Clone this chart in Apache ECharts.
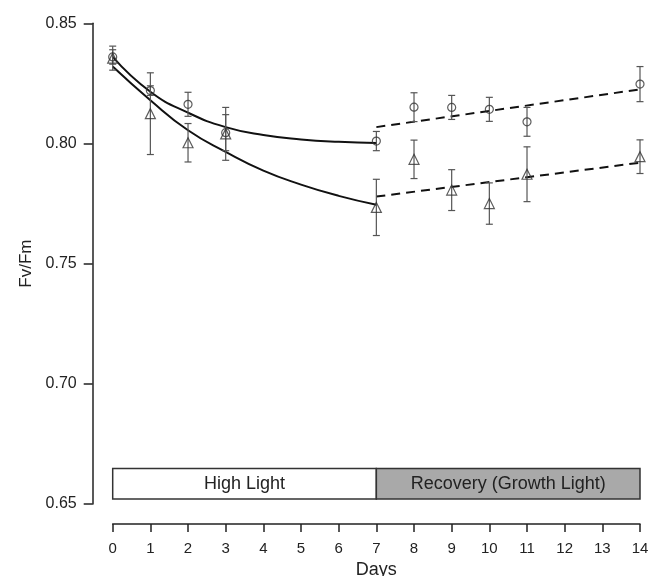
<!DOCTYPE html>
<html>
<head>
<meta charset="utf-8">
<script src="https://cdn.jsdelivr.net/npm/echarts@6/dist/echarts.min.js"></script>
<style>html,body{margin:0;padding:0;background:#fff}#c{width:649px;height:576px}</style>
</head>
<body>
<div id="c"></div>
<script>
// Measured days
const days = [0, 1, 2, 3, 7, 8, 9, 10, 11, 14];
// Circles series (mean, error)
const circleMean = [0.836, 0.822, 0.8163, 0.8045, 0.801, 0.8151, 0.815, 0.8142, 0.809, 0.8247];
const circleErr  = [0.003, 0.002, 0.005, 0.0075, 0.004, 0.006, 0.005, 0.005, 0.006, 0.0073];
// Triangles series (mean, error)
const triMean = [0.8355, 0.8124, 0.8003, 0.804, 0.7734, 0.7934, 0.7806, 0.775, 0.7872, 0.7945];
const triErr  = [0.005, 0.017, 0.008, 0.011, 0.0117, 0.008, 0.0085, 0.0086, 0.0114, 0.007];
// Fitted decay curves during high light
const fitDays = [0, 1, 2, 3, 4, 5, 6, 7];
const circleFit = [0.836, 0.8215, 0.8128, 0.8068, 0.8035, 0.8017, 0.8007, 0.8002];
const triFit    = [0.832, 0.818, 0.8055, 0.7965, 0.7887, 0.7829, 0.7782, 0.7745];
// Recovery linear trends
const recDays = [7, 14];
const circleRec = [0.8068, 0.8225];
const triRec    = [0.7779, 0.792];
// Phase bars
const phaseStart = [0, 7];
const phaseEnd = [7, 14];
const phaseLabel = ['High Light', 'Recovery (Growth Light)'];
const phaseBand = [0.6521, 0.6648];
// Ticks
const yTicks = ['0.65', '0.70', '0.75', '0.80', '0.85'];

const FONT = '"Liberation Sans", Arial, sans-serif';
const chart = echarts.init(document.getElementById('c'), null, {renderer: 'canvas'});

function errData(mean, err) {
  return days.map((d, i) => [d, mean[i] - err[i], mean[i] + err[i]]);
}
function errRender(params, api) {
  const x = api.value(0);
  const lo = api.coord([x, api.value(1)]);
  const hi = api.coord([x, api.value(2)]);
  const w = 3.5;
  const st = {stroke: '#555', lineWidth: 1.2};
  return {type: 'group', children: [
    {type: 'line', shape: {x1: lo[0], y1: lo[1], x2: hi[0], y2: hi[1]}, style: st},
    {type: 'line', shape: {x1: lo[0]-w, y1: lo[1], x2: lo[0]+w, y2: lo[1]}, style: st},
    {type: 'line', shape: {x1: hi[0]-w, y1: hi[1], x2: hi[0]+w, y2: hi[1]}, style: st}
  ]};
}

const phaseData = phaseStart.map((s, i) => [s, phaseEnd[i], phaseBand[0], phaseBand[1], i]);

chart.setOption({
  animation: false,
  grid: {left: 112.7, right: 9, top: 23.3, bottom: 72, outerBoundsMode: 'none', containLabel: false},
  xAxis: {
    type: 'value', min: 0, max: 14, interval: 1,
    offset: 20,
    name: 'Days', nameLocation: 'middle', nameGap: 37,
    nameTextStyle: {fontFamily: FONT, fontSize: 18, color: '#222'},
    axisLine: {onZero: false, lineStyle: {color: '#222', width: 1.5}},
    axisTick: {length: 8, lineStyle: {color: '#222', width: 1.5}},
    axisLabel: {fontFamily: FONT, fontSize: 15, color: '#222', margin: 17},
    splitLine: {show: false}
  },
  yAxis: {
    type: 'value', min: 0.65, max: 0.85, interval: 0.05,
    offset: 20,
    name: 'Fv/Fm', nameLocation: 'middle', nameGap: 57,
    nameTextStyle: {fontFamily: FONT, fontSize: 17, color: '#222'},
    axisLine: {show: true, onZero: false, lineStyle: {color: '#222', width: 1.5}},
    axisTick: {show: true, length: 9, lineStyle: {color: '#222', width: 1.5}},
    axisLabel: {fontFamily: FONT, fontSize: 16, color: '#222', margin: 16,
      formatter: v => v.toFixed(2)},
    splitLine: {show: false}
  },
  series: [
    {
      type: 'custom', name: 'phases', data: phaseData, z: 1,
      renderItem: function (params, api) {
        const p0 = api.coord([api.value(0), api.value(3)]);
        const p1 = api.coord([api.value(1), api.value(2)]);
        const idx = api.value(4);
        return {type: 'group', children: [
          {type: 'rect', shape: {x: p0[0], y: p0[1], width: p1[0]-p0[0], height: p1[1]-p0[1]},
           style: {fill: idx === 0 ? '#ffffff' : '#a9a9a9', stroke: '#333', lineWidth: 1.5}},
          {type: 'text', style: {text: phaseLabel[idx], x: (p0[0]+p1[0])/2, y: (p0[1]+p1[1])/2,
            align: 'center', verticalAlign: 'middle', fontFamily: FONT, fontSize: 18, fill: '#222'}}
        ]};
      }
    },
    {type: 'line', data: fitDays.map((d, i) => [d, circleFit[i]]), smooth: true, showSymbol: false,
     lineStyle: {color: '#111', width: 2}, z: 3},
    {type: 'line', data: fitDays.map((d, i) => [d, triFit[i]]), smooth: true, showSymbol: false,
     lineStyle: {color: '#111', width: 2}, z: 3},
    {type: 'line', data: recDays.map((d, i) => [d, circleRec[i]]), showSymbol: false,
     lineStyle: {color: '#111', width: 2, type: [9, 6]}, z: 3},
    {type: 'line', data: recDays.map((d, i) => [d, triRec[i]]), showSymbol: false,
     lineStyle: {color: '#111', width: 2, type: [9, 6]}, z: 3},
    {type: 'custom', data: errData(circleMean, circleErr), renderItem: errRender, z: 4},
    {type: 'custom', data: errData(triMean, triErr), renderItem: errRender, z: 4},
    {type: 'scatter', data: days.map((d, i) => [d, circleMean[i]]), symbol: 'circle', symbolSize: 8,
     itemStyle: {color: 'rgba(0,0,0,0)', borderColor: '#333', borderWidth: 1.2}, z: 5},
    {type: 'scatter', data: days.map((d, i) => [d, triMean[i]]), symbol: 'triangle', symbolSize: 10,
     itemStyle: {color: 'rgba(0,0,0,0)', borderColor: '#333', borderWidth: 1.2}, z: 5}
  ]
});
</script>
</body>
</html>
